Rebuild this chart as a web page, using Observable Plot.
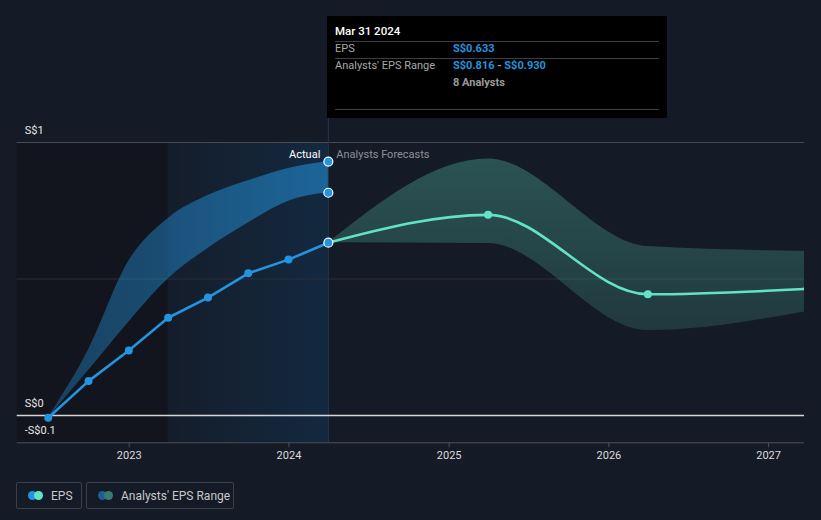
<!DOCTYPE html>
<html>
<head>
<meta charset="utf-8">
<script src="https://cdn.jsdelivr.net/npm/d3@7"></script>
<script src="https://cdn.jsdelivr.net/npm/@observablehq/plot@0.6"></script>
<style>
  html, body { margin: 0; padding: 0; background: #151b26; }
  body { width: 821px; height: 520px; position: relative; overflow: hidden; font-family: Roboto, "Noto Sans", sans-serif; }
  #chart { position: absolute; left: 0; top: 0; }
  #tip { position: absolute; left: 327px; top: 16px; width: 340px; height: 102px; background: #000; font-size: 11px; }
  #tip .t { position: absolute; white-space: nowrap; line-height: 14px; }
  #tip .sep { position: absolute; left: 8px; width: 324px; height: 1px; background: #3c3f45; }
  #legend { position: absolute; left: 16px; top: 482px; display: flex; gap: 4px; }
  .lg { height: 27px; border: 1px solid #3a3f4a; border-radius: 2px; display: flex; align-items: center; padding: 0 0 0 11px; font-size: 12px; color: #c8c8c8; box-sizing: border-box; white-space: nowrap; }
  .ic { position: relative; width: 15px; height: 9px; margin-right: 8px; flex: none; }
  .ic span { position: absolute; top: 0; width: 9px; height: 9px; border-radius: 50%; }
</style>
</head>
<body>
<div id="chart"></div>
<div id="tip">
  <div class="t" style="left:8px;top:8px;color:#fff;font-weight:500;font-size:11.5px;">Mar 31 2024</div>
  <div class="sep" style="top:25px"></div>
  <div class="t" style="left:8px;top:26px;color:#a8a8a8;">EPS</div>
  <div class="t" style="left:126px;top:26px;color:#2394df;font-weight:bold;">S$0.633</div>
  <div class="sep" style="top:42px"></div>
  <div class="t" style="left:8px;top:43px;color:#a8a8a8;">Analysts' EPS Range</div>
  <div class="t" style="left:126px;top:43px;color:#2394df;font-weight:bold;">S$0.816 <span style="color:#8fa3b8">-</span> S$0.930</div>
  <div class="t" style="left:126px;top:60px;color:#9a9a9a;font-weight:bold;">8 Analysts</div>
  <div class="sep" style="top:93px"></div>
</div>
<div id="legend">
  <div class="lg" style="width:66px"><div class="ic"><span style="left:0;background:#2394df"></span><span style="left:6px;background:#62e3c9"></span></div>EPS</div>
  <div class="lg" style="width:148px"><div class="ic"><span style="left:0;background:#1f5f8f"></span><span style="left:6px;background:#3a7a74"></span></div>Analysts' EPS Range</div>
</div>
<script>
// ---- data ----
const pastDates = ["2022-06-30","2022-09-30","2022-12-31","2023-03-31","2023-06-30","2023-09-30","2023-12-31","2024-03-31"];
const pastEps   = [-0.008, 0.126, 0.238, 0.358, 0.432, 0.521, 0.571, 0.633];
const pastLow   = [-0.008, 0.165, 0.342, 0.500, 0.612, 0.705, 0.785, 0.816];
const pastHigh  = [-0.008, 0.240, 0.565, 0.722, 0.806, 0.860, 0.905, 0.930];

const fcDates = ["2024-03-31","2025-03-31","2026-03-31","2027-03-31"];
const fcEps   = [0.633, 0.735, 0.444, 0.464];
const fcLow   = [0.633, 0.630, 0.311, 0.381];
const fcHigh  = [0.633, 0.940, 0.619, 0.601];

const yearTicks = [2023, 2024, 2025, 2026, 2027];
const yLabels = [{v: 1, t: "S$1"}, {v: 0, t: "S$0"}, {v: -0.1, t: "-S$0.1"}];

const xStart = new Date("2022-04-20");
const xEnd = new Date("2027-03-24");
const pastStart = new Date("2023-03-31");
const cut = new Date("2024-03-31");

const past = pastDates.map((d, i) => ({date: new Date(d), eps: pastEps[i], low: pastLow[i], high: pastHigh[i]}));
const fc = fcDates.map((d, i) => ({date: new Date(d), eps: fcEps[i], low: fcLow[i], high: fcHigh[i]}));
const yearDates = yearTicks.map(y => new Date(Date.UTC(y, 0, 1)));

const BLUE = "#2394df", MINT = "#62e3c9";

const chart = Plot.plot({
  width: 821,
  height: 470,
  marginLeft: 16.7,
  marginRight: 17,
  marginTop: 142,
  marginBottom: 27.7,
  style: {background: "#151b26", fontFamily: "Roboto, sans-serif", fontSize: "11px", color: "#ddd", overflow: "visible"},
  x: {type: "utc", domain: [xStart, xEnd], axis: null},
  y: {domain: [-0.1, 1], axis: null},
  marks: [
    Plot.rect([{a: xStart, b: pastStart}], {x1: "a", x2: "b", y1: () => -0.1, y2: () => 1, fill: "#12151d"}),
    Plot.rect([{a: pastStart, b: cut}], {x1: "a", x2: "b", y1: () => -0.1, y2: () => 1, fill: "url(#hl)"}),
    Plot.ruleY([0.5], {stroke: "#2a2f39"}),
    Plot.ruleY([1], {stroke: "#454a54"}),
    Plot.ruleY([-0.1], {stroke: "#4a4f59"}),
    Plot.ruleX(yearDates, {x: d => d, y1: () => -0.1, y2: () => -0.1 - 5 / 273, stroke: "#4a4f59"}),
    Plot.ruleX([cut], {x: d => d, y1: () => -0.1, y2: () => 1.088, stroke: "#25374a"}),
    Plot.areaY(past, {x: "date", y1: "low", y2: "high", curve: "monotone-x", fill: "url(#pastBand)"}),
    Plot.areaY(fc, {x: "date", y1: "low", y2: "high", curve: "monotone-x", fill: "url(#fcBand)", clip: true}),
    Plot.ruleY([0], {stroke: "#d6d6d6", strokeWidth: 1.5}),
    Plot.line(fc, {x: "date", y: "eps", curve: "monotone-x", stroke: MINT, strokeWidth: 2.6, clip: true}),
    Plot.line(past, {x: "date", y: "eps", stroke: BLUE, strokeWidth: 2.6}),
    Plot.dot(past.slice(0, -1), {x: "date", y: "eps", r: 4, fill: BLUE}),
    Plot.dot(fc.slice(1), {x: "date", y: "eps", r: 4, fill: MINT, clip: true}),
    Plot.dot(past.slice(-1), {x: "date", y: "eps", r: 4.5, fill: BLUE, stroke: "#fff", strokeWidth: 1.2}),
    Plot.dot(past.slice(-1), {x: "date", y: "low", r: 4.5, fill: BLUE, stroke: "#fff", strokeWidth: 1.2}),
    Plot.dot(past.slice(-1), {x: "date", y: "high", r: 4.5, fill: BLUE, stroke: "#fff", strokeWidth: 1.2}),
    Plot.text(yLabels, {frameAnchor: "left", y: "v", text: "t", dx: 7.5, dy: -12, textAnchor: "start", fill: "#e6e6e6", fontSize: 11}),
    Plot.text(yearDates, {x: d => d, y: () => -0.1, text: d => String(d.getUTCFullYear()), dy: 13, fill: "#dcdcdc", fontSize: 11}),
    Plot.text([{d: cut, v: 0.956, t: "Actual"}], {x: "d", y: "v", text: "t", dx: -8, textAnchor: "end", fill: "#ffffff", fontSize: 11}),
    Plot.text([{d: cut, v: 0.956, t: "Analysts Forecasts"}], {x: "d", y: "v", text: "t", dx: 8, textAnchor: "start", fill: "#8c9099", fontSize: 11})
  ]
});

document.getElementById("chart").appendChild(chart);

const svg = d3.select(chart);
const defs = svg.insert("defs", ":first-child");
const hl = defs.append("linearGradient").attr("id", "hl").attr("x1", 0).attr("x2", 1).attr("y1", 0).attr("y2", 0);
hl.append("stop").attr("offset", 0).attr("stop-color", "#0f4c81").attr("stop-opacity", 0.05);
hl.append("stop").attr("offset", 1).attr("stop-color", "#0f4c81").attr("stop-opacity", 0.28);
const pb = defs.append("linearGradient").attr("id", "pastBand").attr("x1", 0).attr("x2", 1).attr("y1", 0).attr("y2", 0);
pb.append("stop").attr("offset", 0).attr("stop-color", BLUE).attr("stop-opacity", 0.35);
pb.append("stop").attr("offset", 1).attr("stop-color", BLUE).attr("stop-opacity", 0.56);
const fb = defs.append("linearGradient").attr("id", "fcBand").attr("x1", 0).attr("x2", 0).attr("y1", 0).attr("y2", 1);
fb.append("stop").attr("offset", 0).attr("stop-color", MINT).attr("stop-opacity", 0.28);
fb.append("stop").attr("offset", 1).attr("stop-color", MINT).attr("stop-opacity", 0.15);
</script>
</body>
</html>
